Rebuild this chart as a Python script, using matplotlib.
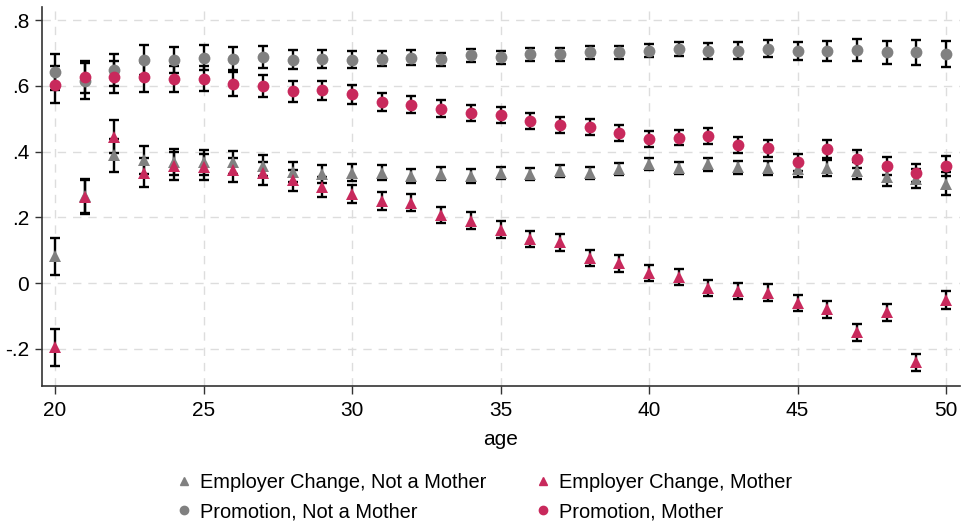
import matplotlib
matplotlib.use('Agg')
import matplotlib.pyplot as plt
from matplotlib.lines import Line2D

plt.rcParams['font.family'] = ['Liberation Sans', 'DejaVu Sans']
plt.rcParams['axes.unicode_minus'] = False

ages = list(range(20, 51))

emp_nm = [0.082, 0.264, 0.389, 0.374, 0.369, 0.367, 0.367, 0.357, 0.339, 0.332, 0.336,
          0.336, 0.326, 0.333, 0.326, 0.336, 0.333, 0.342, 0.336, 0.347, 0.362,
          0.349, 0.362, 0.352, 0.351, 0.346, 0.351, 0.342, 0.323, 0.318, 0.303]
emp_nm_ci = [0.056, 0.052, 0.050, 0.042, 0.040, 0.037, 0.035, 0.032, 0.030, 0.028, 0.025,
             0.023, 0.022, 0.020, 0.020, 0.018, 0.018, 0.018, 0.018, 0.018, 0.018,
             0.018, 0.020, 0.020, 0.022, 0.022, 0.024, 0.026, 0.028, 0.030, 0.035]

emp_m = [-0.195, 0.262, 0.445, 0.336, 0.357, 0.354, 0.344, 0.334, 0.313, 0.293, 0.271,
         0.249, 0.244, 0.207, 0.190, 0.163, 0.134, 0.124, 0.077, 0.060, 0.030,
         0.019, -0.014, -0.024, -0.029, -0.060, -0.080, -0.150, -0.089, -0.241, -0.052]
emp_m_ci = [0.057, 0.053, 0.050, 0.045, 0.042, 0.040, 0.037, 0.034, 0.032, 0.030, 0.028,
            0.027, 0.026, 0.025, 0.025, 0.025, 0.025, 0.025, 0.025, 0.025, 0.025,
            0.025, 0.025, 0.025, 0.025, 0.025, 0.025, 0.025, 0.025, 0.025, 0.027]

prom_nm = [0.643, 0.614, 0.649, 0.679, 0.679, 0.686, 0.683, 0.687, 0.680, 0.681, 0.680,
           0.683, 0.686, 0.681, 0.693, 0.687, 0.696, 0.696, 0.702, 0.702, 0.707,
           0.712, 0.706, 0.707, 0.713, 0.707, 0.707, 0.709, 0.702, 0.702, 0.696]
prom_nm_ci = [0.055, 0.055, 0.048, 0.045, 0.040, 0.038, 0.035, 0.033, 0.030, 0.027, 0.025,
              0.023, 0.022, 0.020, 0.020, 0.020, 0.020, 0.020, 0.020, 0.020, 0.020,
              0.020, 0.023, 0.025, 0.026, 0.028, 0.030, 0.033, 0.035, 0.038, 0.040]

prom_m = [0.604, 0.627, 0.627, 0.627, 0.622, 0.621, 0.606, 0.599, 0.583, 0.586, 0.574,
          0.551, 0.543, 0.531, 0.517, 0.511, 0.494, 0.480, 0.474, 0.457, 0.439,
          0.443, 0.447, 0.420, 0.410, 0.367, 0.408, 0.377, 0.357, 0.334, 0.356]
prom_m_ci = [0.055, 0.050, 0.048, 0.045, 0.040, 0.038, 0.036, 0.034, 0.032, 0.030, 0.028,
             0.027, 0.026, 0.025, 0.024, 0.024, 0.024, 0.024, 0.024, 0.024, 0.024,
             0.024, 0.024, 0.024, 0.025, 0.025, 0.027, 0.027, 0.027, 0.027, 0.030]

labels = ['Employer Change, Not a Mother', 'Employer Change, Mother',
          'Promotion, Not a Mother', 'Promotion, Mother']
gray = '#808080'
red = '#C8295C'

fig = plt.figure(figsize=(9.62, 5.22), dpi=100)
ax = fig.add_axes([0.0433, 0.2611, 0.9546, 0.7255])

series = [(emp_nm, emp_nm_ci, '^', gray),
          (emp_m, emp_m_ci, '^', red),
          (prom_nm, prom_nm_ci, 'o', gray),
          (prom_m, prom_m_ci, 'o', red)]
for vals, ci, mk, col in series:
    ax.errorbar(ages, vals, yerr=ci, fmt='none', ecolor='black', elinewidth=1.7,
                capsize=3.5, capthick=1.7, zorder=3)
    ax.plot(ages, vals, linestyle='none', marker=mk, markersize=8.5,
            color=col, markeredgewidth=0, zorder=4)

ax.set_xlim(19.55, 50.47)
ax.set_ylim(-0.312, 0.84)
ax.set_xticks([20, 25, 30, 35, 40, 45, 50])
yt = [-0.2, 0, 0.2, 0.4, 0.6, 0.8]
ax.set_yticks(yt)
ax.set_yticklabels(['-.2', '0', '.2', '.4', '.6', '.8'])
ax.tick_params(axis='both', labelsize=15, direction='out', width=1, color='#333333')
ax.tick_params(axis='x', length=6, pad=5)
ax.tick_params(axis='y', length=5, pad=4)
ax.grid(True, linestyle=(0, (6, 5)), color='#dddddd', linewidth=1)
ax.set_axisbelow(True)
for s in ['top', 'right']:
    ax.spines[s].set_visible(False)
for s in ['left', 'bottom']:
    ax.spines[s].set_color('#333333')
    ax.spines[s].set_linewidth(1.2)
ax.set_xlabel('age', fontsize=15, labelpad=7)

handles = [Line2D([], [], linestyle='none', marker='^', color=gray, markersize=6),
           Line2D([], [], linestyle='none', marker='o', color=gray, markersize=6),
           Line2D([], [], linestyle='none', marker='^', color=red, markersize=6),
           Line2D([], [], linestyle='none', marker='o', color=red, markersize=6)]
leg_labels = [labels[0], labels[2], labels[1], labels[3]]
fig.legend(handles, leg_labels, ncol=2, loc='center', bbox_to_anchor=(0.503, 0.047),
           frameon=False, fontsize=14.4, handlelength=0.8, handletextpad=0.4,
           columnspacing=2.4, labelspacing=0.5, borderpad=0, borderaxespad=0)

fig.savefig('out.png', dpi=100)
